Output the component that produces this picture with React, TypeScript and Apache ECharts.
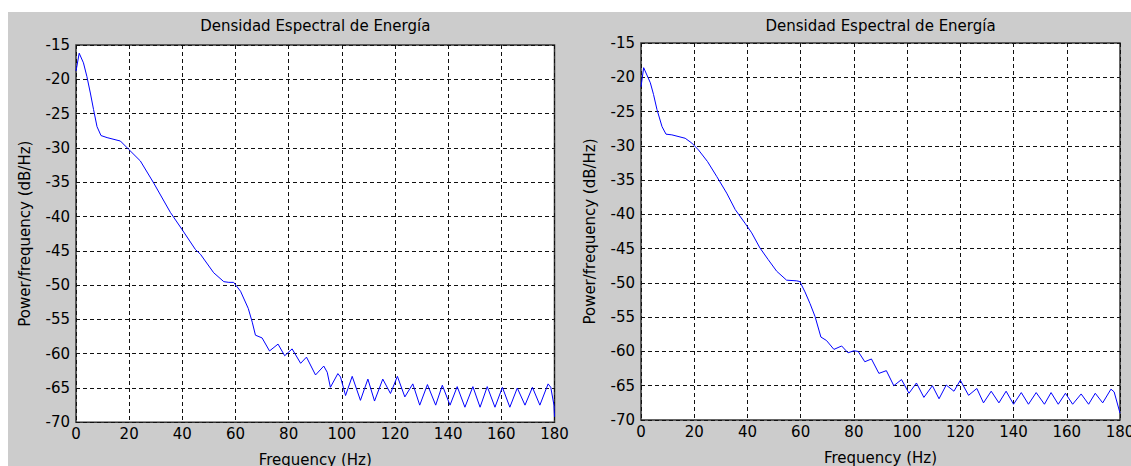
import React, { useEffect, useRef } from "react";
import * as echarts from "echarts";

// Frequency axis ticks (Hz) and power axis limits (dB/Hz)
const freqTicks = { min: 0, max: 180, step: 20 };
const powerTicks = { min: -70, max: -15, step: 5 };

const titleText = "Densidad Espectral de Energía";
const xName = "Frequency (Hz)";
const yName = "Power/frequency (dB/Hz)";

// Left panel: PSD estimate
const freqA = [
  0, 1.2, 2.8, 4.1, 5.4, 6.6, 7.9, 9.4, 11.7, 16.7, 19.8, 24.2, 29.2, 35.5, 39.9,
  44.9, 46.8, 51.8, 55.6, 57.5, 59.3, 61.9, 64.8, 66.3, 67.5, 70, 72.8, 76, 78.5,
  81.3, 84.5, 86.7, 90.1, 93.2, 94.5, 95.7, 98.5, 99.5, 101.4, 103.9, 107, 109.8,
  112.3, 115.4, 118.3, 120.9, 123.7, 126.7, 129.3, 132.2, 135.3, 137.8, 140.7,
  143.4, 146.3, 149.3, 152, 154.7, 157.6, 160.4, 163.2, 166, 168.9, 171.7, 174.5,
  177.6, 178.6, 179.8, 180,
];
const psdA = [
  -18.8, -16.2, -17.6, -19.6, -22.0, -24.4, -26.9, -28.2, -28.5, -29.0, -30.2,
  -31.9, -35.1, -39.4, -41.9, -44.8, -45.5, -48.2, -49.5, -49.6, -49.6, -50.9,
  -53.4, -55.4, -57.3, -57.7, -59.6, -58.6, -60.3, -59.3, -61.4, -60.5, -63.1,
  -61.8, -62.7, -64.9, -62.9, -63.4, -66.1, -63.3, -66.8, -63.7, -66.9, -63.7,
  -65.8, -63.3, -66.3, -64.4, -67.5, -64.5, -67.5, -64.6, -67.5, -64.8, -67.8,
  -64.8, -67.8, -64.8, -67.8, -64.9, -67.8, -65.0, -67.5, -64.9, -67.5, -64.4,
  -64.9, -67.5, -69.2,
];

// Right panel: PSD estimate
const freqB = [
  0, 1.0, 3.5, 4.7, 6.0, 7.9, 9.4, 11.6, 16.6, 19.1, 21.6, 25, 28.5, 32.2, 35.4,
  39.1, 41.6, 44.7, 47.8, 51, 54.7, 58.5, 59.7, 61.6, 63.5, 65.4, 67.6, 69.7, 72.5,
  75.4, 77.8, 80, 81.6, 84.1, 86.6, 89.4, 92.2, 95, 97.9, 100.7, 103.5, 106.3,
  109.5, 112, 114.7, 117.6, 120, 123.1, 126.2, 128.7, 131.6, 134.5, 137.2, 140,
  142.9, 145.6, 148.5, 151.6, 154.1, 156.8, 159.5, 162.2, 165.4, 168.2, 170.7,
  173.5, 176.6, 177.8, 180,
];
const psdB = [
  -21.4, -18.6, -20.8, -22.5, -24.7, -27.2, -28.3, -28.4, -28.9, -29.6, -30.6,
  -32.3, -34.5, -36.9, -39.3, -41.3, -42.7, -44.9, -46.6, -48.3, -49.6, -49.7,
  -49.8, -51.3, -53.0, -54.9, -57.9, -58.4, -59.7, -59.2, -60.2, -59.9, -60.0,
  -61.5, -61.1, -63.2, -62.8, -65.0, -64.1, -66.1, -64.6, -66.7, -65.0, -66.9,
  -64.9, -65.8, -64.2, -66.4, -65.4, -67.5, -65.8, -67.5, -65.8, -67.7, -66.0,
  -67.7, -66.0, -67.7, -66.0, -67.7, -66.1, -67.7, -66.2, -67.7, -66.1, -67.5,
  -65.5, -65.9, -69.0,
];

const FONT = '"DejaVu Sans", Verdana, sans-serif';
const FONT_SIZE = 15;

const panels = [
  { left: 76, top: 45, width: 478.5, height: 377.3 },
  { left: 641, top: 43, width: 479, height: 377 },
];

const pairs = (xs: number[], ys: number[]) => xs.map((x, i) => [x, ys[i]]);

export default function App() {
  const ref = useRef<HTMLDivElement>(null);

  useEffect(() => {
    if (!ref.current) return;
    const chart = echarts.init(ref.current, undefined, { renderer: "svg" });

    const gridLine = { show: true, lineStyle: { color: "#111", width: 1, type: [4, 3] as any } };

    const xAxes = panels.map((_, i) => ({
      type: "value" as const,
      gridIndex: i,
      min: freqTicks.min,
      max: freqTicks.max,
      interval: freqTicks.step,
      name: xName,
      nameLocation: "middle" as const,
      nameGap: 30,
      nameTextStyle: { color: "#000", fontFamily: FONT, fontSize: FONT_SIZE },
      axisLine: { show: false },
      axisTick: { show: false },
      axisLabel: { color: "#000", fontFamily: FONT, fontSize: FONT_SIZE, margin: 4 },
      splitLine: gridLine,
    }));

    const yAxes = panels.map((_, i) => ({
      type: "value" as const,
      gridIndex: i,
      min: powerTicks.min,
      max: powerTicks.max,
      interval: powerTicks.step,
      name: yName,
      nameLocation: "middle" as const,
      nameRotate: 90,
      nameGap: 44,
      nameTextStyle: { color: "#000", fontFamily: FONT, fontSize: FONT_SIZE },
      axisLine: { show: false },
      axisTick: { show: false },
      axisLabel: { color: "#000", fontFamily: FONT, fontSize: FONT_SIZE, margin: 6 },
      splitLine: gridLine,
    }));

    chart.setOption({
      animation: false,
      grid: panels.map((p) => ({
        ...p,
        show: true,
        backgroundColor: "#ffffff",
        borderColor: "#333",
        borderWidth: 1.5,
        containLabel: false,
        outerBoundsMode: "none",
      })),
      xAxis: xAxes,
      yAxis: yAxes,
      graphic: panels.map((p) => ({
        type: "text",
        x: p.left + p.width / 2,
        y: 26,
        z: 10,
        style: {
          text: titleText,
          fill: "#000",
          font: `${FONT_SIZE}px ${FONT}`,
          align: "center",
          verticalAlign: "middle",
          textAlign: "center",
          textVerticalAlign: "middle",
        },
      })),
      series: [
        {
          type: "line",
          xAxisIndex: 0,
          yAxisIndex: 0,
          data: pairs(freqA, psdA),
          showSymbol: false,
          lineStyle: { color: "#0000ff", width: 1 },
          itemStyle: { color: "#0000ff" },
          clip: true,
        },
        {
          type: "line",
          xAxisIndex: 1,
          yAxisIndex: 1,
          data: pairs(freqB, psdB),
          showSymbol: false,
          lineStyle: { color: "#0000ff", width: 1 },
          itemStyle: { color: "#0000ff" },
          clip: true,
        },
      ],
    });

    return () => chart.dispose();
  }, []);

  return (
    <div style={{ position: "fixed", left: 0, top: 0, width: 1131, height: 466, background: "#ffffff", overflow: "hidden" }}>
      <div style={{ position: "absolute", left: 8, top: 12, right: 0, bottom: 0, background: "#cccccc" }} />
      <div ref={ref} style={{ position: "absolute", left: 0, top: 0, width: 1131, height: 466 }} />
    </div>
  );
}
